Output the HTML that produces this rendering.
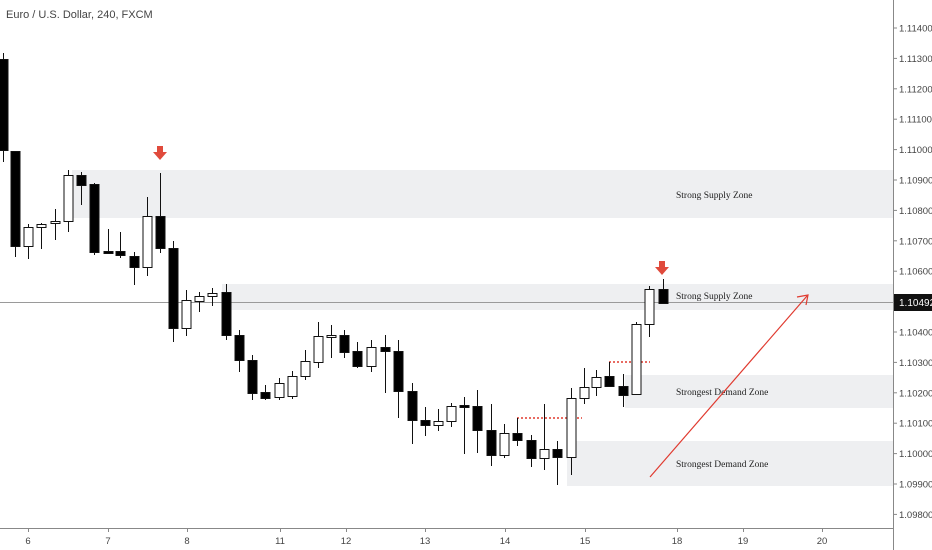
<!DOCTYPE html>
<html><head><meta charset="utf-8"><style>
html,body{margin:0;padding:0;background:#fff;}
svg{display:block;font-family:"Liberation Sans",sans-serif;}
</style></head><body>
<svg width="932" height="550" viewBox="0 0 932 550" xmlns="http://www.w3.org/2000/svg">
<rect width="932" height="550" fill="#fff"/>
<rect x="72" y="170" width="821" height="48" fill="#eeeff1"/>
<rect x="222" y="284" width="671" height="26" fill="#eeeff1"/>
<rect x="625" y="375" width="268" height="33" fill="#eeeff1"/>
<rect x="567" y="441" width="326" height="45" fill="#eeeff1"/>
<line x1="0" y1="302.5" x2="893" y2="302.5" stroke="#9a9a9a" stroke-width="1"/>
<g font-family="Liberation Serif, serif" font-size="9.5" fill="#222">
<text x="676" y="198">Strong Supply Zone</text>
<text x="676" y="299">Strong Supply Zone</text>
<text x="676" y="395">Strongest Demand Zone</text>
<text x="676" y="467">Strongest Demand Zone</text>
</g>
<line x1="517" y1="418" x2="582" y2="418" stroke="#e03a2f" stroke-width="1.5" stroke-dasharray="2,2"/>
<line x1="609" y1="362" x2="650" y2="362" stroke="#e03a2f" stroke-width="1.5" stroke-dasharray="2,2"/>
<g id="c" stroke="#111" stroke-width="1"></g>
<line x1="650" y1="477" x2="807" y2="296" stroke="#e03a2f" stroke-width="1.2"/>
<polyline points="797,297 808,295 806,305" fill="none" stroke="#e03a2f" stroke-width="1.2"/>
<path d="M157,146 h6 v6 h4 l-7,8 l-7,-8 h4z" fill="#e04a3c"/>
<path d="M659,261 h6 v6 h4 l-7,8 l-7,-8 h4z" fill="#e04a3c"/>
<line x1="893.5" y1="0" x2="893.5" y2="550" stroke="#888" stroke-width="1"/>
<line x1="0" y1="528.5" x2="893" y2="528.5" stroke="#888" stroke-width="1"/>
<g id="ax" font-size="9.5" fill="#444"></g>
<rect x="894" y="294" width="38" height="17" fill="#111"/>
<text x="899" y="306" font-size="10" fill="#fff">1.10492</text>
<text x="6" y="18" font-size="11" fill="#444">Euro / U.S. Dollar, 240, FXCM</text>
</svg>
<script>
var NS="http://www.w3.org/2000/svg";
function el(t,a,p){var e=document.createElementNS(NS,t);for(var k in a)e.setAttribute(k,a[k]);p.appendChild(e);return e;}
var g=document.getElementById('c');
var C=[[3,59,150,53,162,0],[15,151,246,151,257,0],[28,246,227,224,259,1],[41,227,224,223,249,1],[55,223,221,209,240,1],[68,221,175,170,232,1],[81,175,185,172,205,0],[94,184,252,183,255,0],[108,251,253,229,253,0],[120,251,255,232,258,0],[134,256,267,252,285,0],[147,267,216,197,276,1],[160,216,248,173,253,0],[173,248,328,241,342,0],[186,328,300,290,336,1],[199,301,296,292,312,1],[212,296,293,288,306,1],[226,292,335,284,340,0],[239,335,360,330,372,0],[252,360,393,355,400,0],[265,392,398,385,400,0],[279,397,383,378,400,1],[292,396,376,371,399,1],[305,376,361,350,380,1],[318,362,336,322,368,1],[331,336,335,325,358,1],[344,335,352,330,358,0],[357,351,366,342,368,0],[371,366,347,340,372,1],[385,347,351,335,393,0],[398,351,391,340,418,0],[412,391,420,383,444,0],[425,420,425,407,436,0],[438,425,421,409,431,1],[451,421,406,403,427,1],[464,405,407,397,454,0],[477,406,430,390,453,0],[491,430,455,404,466,0],[504,455,433,424,458,1],[517,433,440,418,446,0],[531,440,458,435,467,0],[544,458,449,404,470,1],[557,449,457,441,485,0],[571,457,398,388,475,1],[584,398,387,368,404,1],[596,387,377,370,396,1],[609,376,386,362,386,0],[623,386,395,374,407,0],[636,394,324,322,394,1],[649,324,289,286,337,1],[663,289,303,279,303,0]];
C.forEach(function(c){var x=c[0],t=Math.min(c[1],c[2]),b=Math.max(c[1],c[2]);if(b-t<2)b=t+2;
el('line',{x1:x+.5,x2:x+.5,y1:c[3],y2:c[4]},g);
el('rect',{x:x-4,y:t+.5,width:9,height:b-t,fill:c[5]?'#fff':'#000'},g);});
var a=document.getElementById('ax');
for(var i=0;i<=16;i++){var p=1.114-i*0.001,y=28+i*30.4;
if(i==9)continue;
el('line',{x1:893,x2:897,y1:y,y2:y,stroke:'#888'},a);
var t=el('text',{x:899,y:y+3.5},a);t.textContent=p.toFixed(5);}
[[28,'6'],[108,'7'],[187,'8'],[280,'11'],[346,'12'],[425,'13'],[505,'14'],[585,'15'],[677,'18'],[743,'19'],[822,'20']].forEach(function(d){
el('line',{x1:d[0]+.5,x2:d[0]+.5,y1:528,y2:532,stroke:'#888'},a);
var t=el('text',{x:d[0],y:544,'text-anchor':'middle'},a);t.textContent=d[1];});
</script>
</body></html>
